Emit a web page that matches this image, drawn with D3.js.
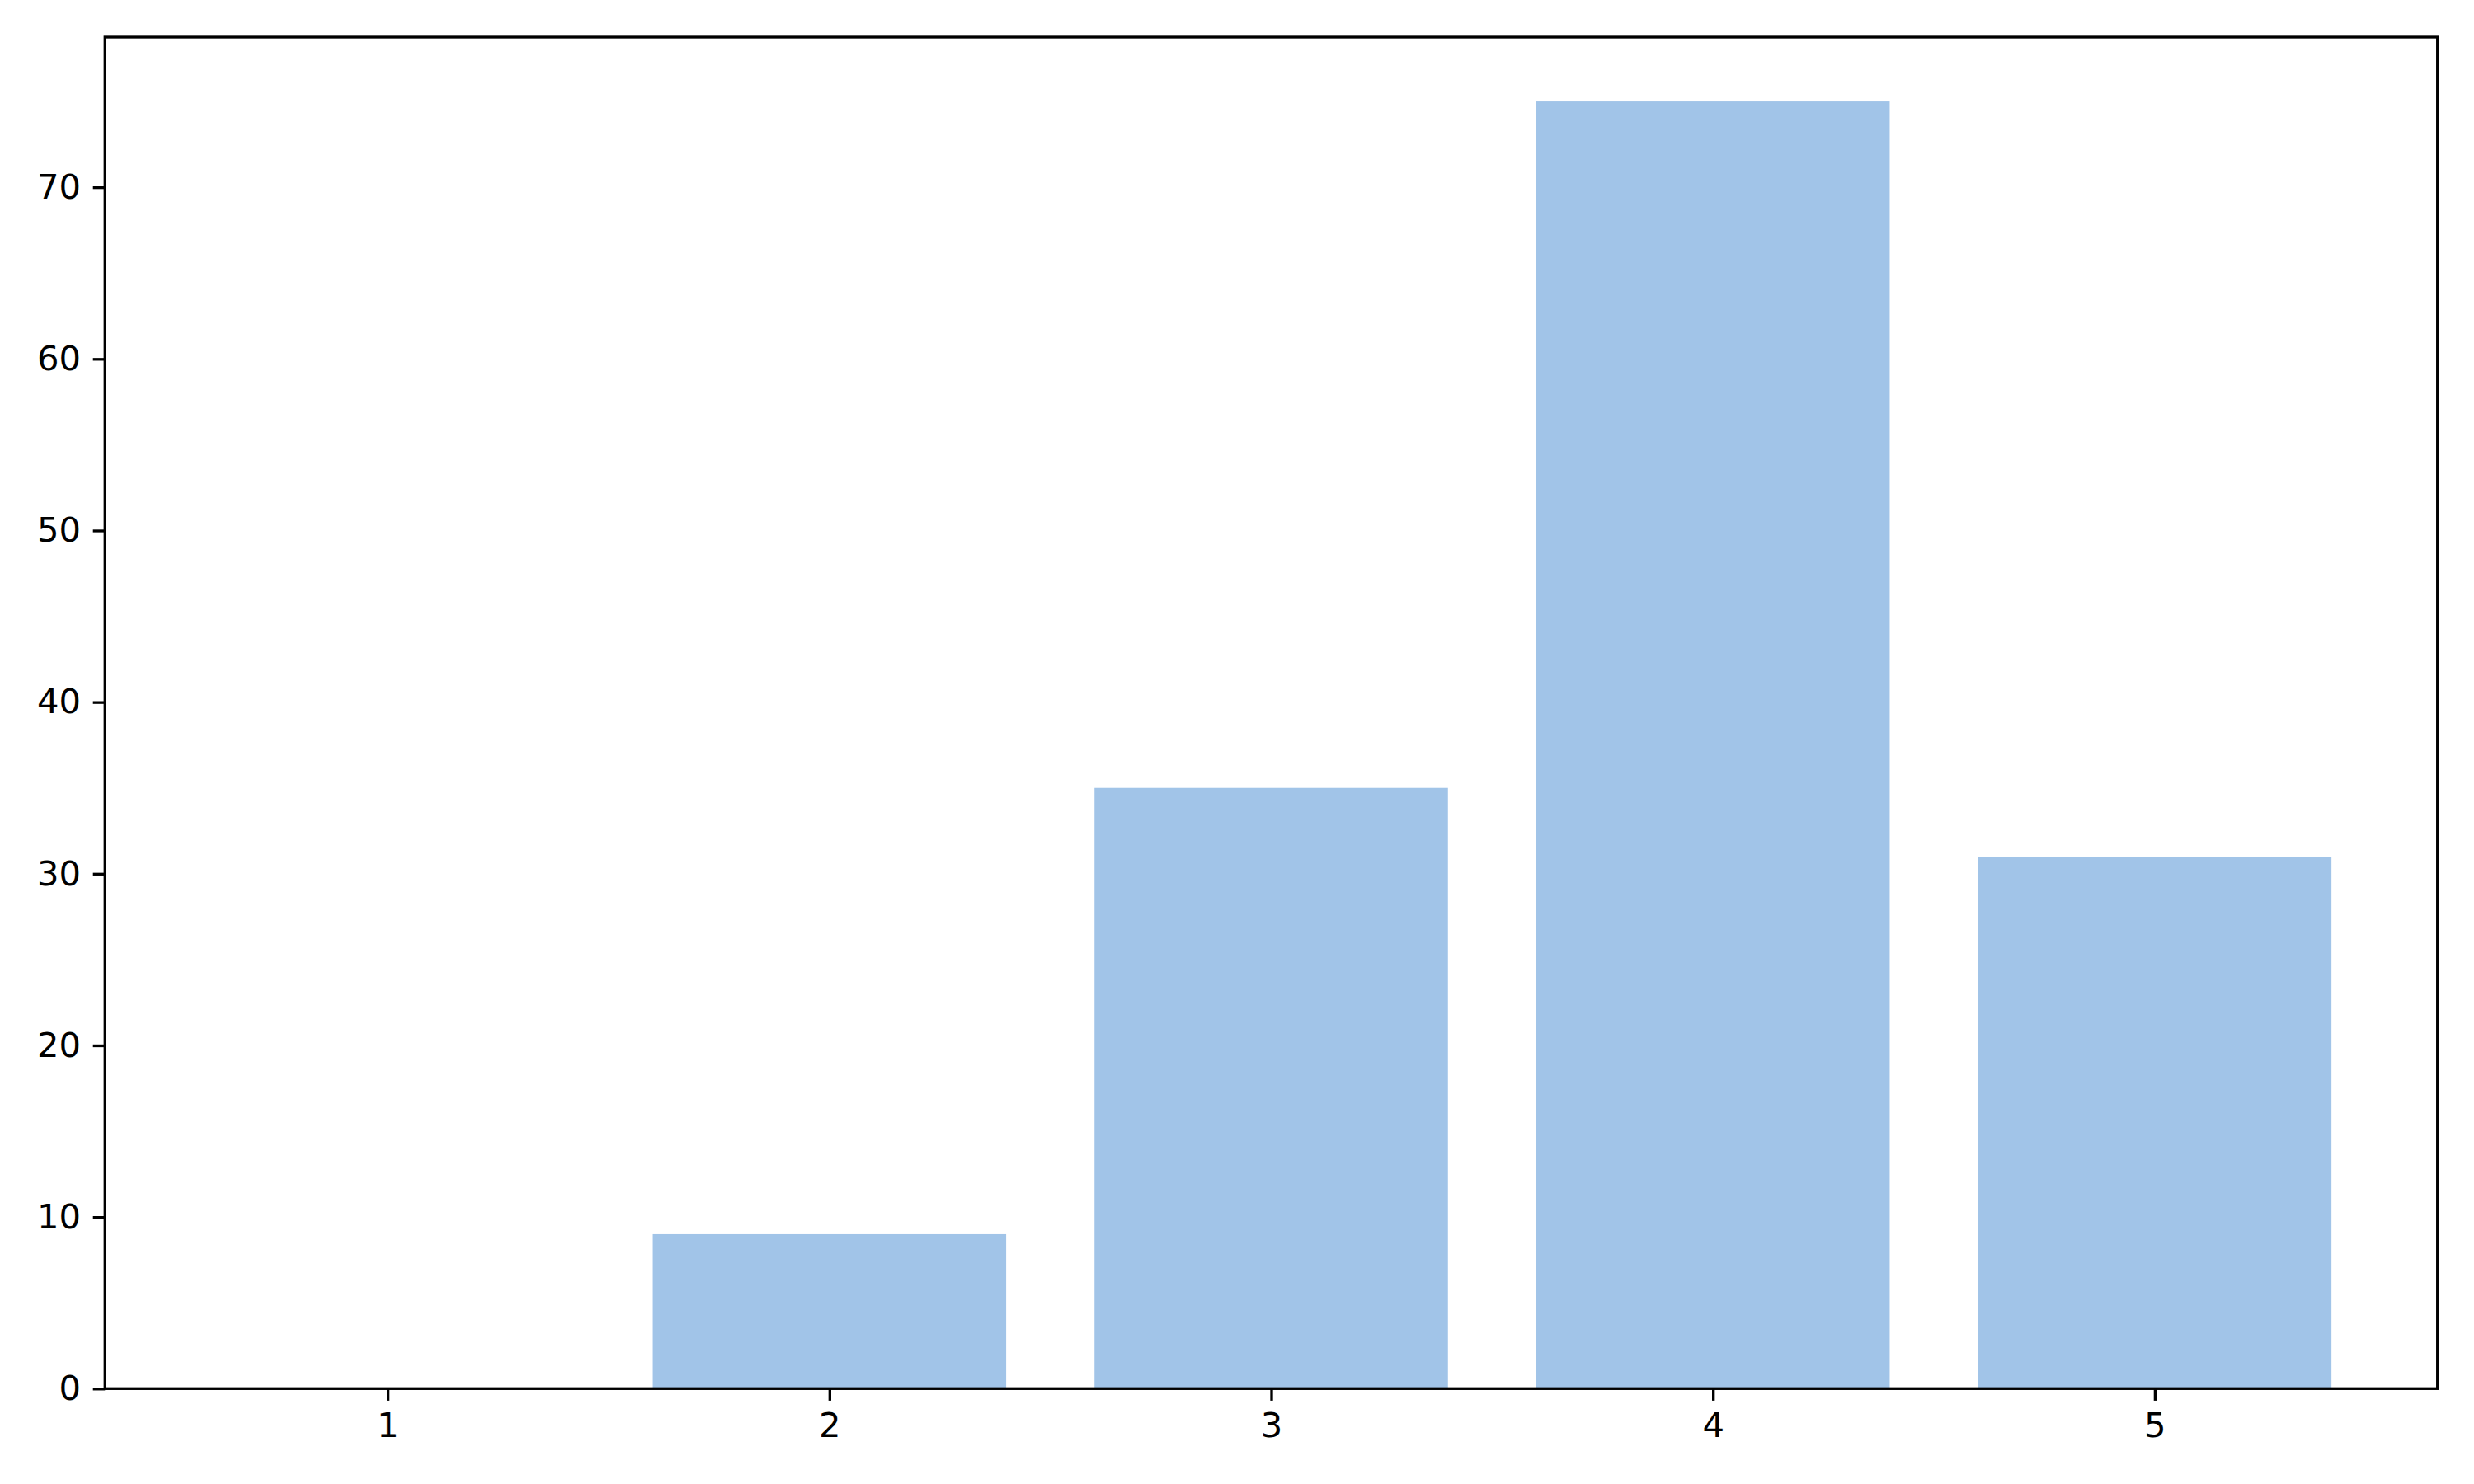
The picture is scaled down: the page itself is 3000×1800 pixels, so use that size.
<!DOCTYPE html>
<html>
<head>
<meta charset="utf-8">
<script src="https://cdn.jsdelivr.net/npm/d3@7"></script>
<style>
  body { margin: 0; background: #fff; }
  svg { display: block; }
</style>
</head>
<body>
<svg></svg>
<script>
// data
const categories = [1, 2, 3, 4, 5];
const counts = [0, 9, 35, 75, 31];
const yTicks = [0, 10, 20, 30, 40, 50, 60, 70];

function drawBarChart() {
  // canvas dimension
  const width = 3000;
  const height = 1800;
  const left = 127.3, right = 2955.7, top = 45, bottom = 1684.3;
  const barWidth = 0.8;
  const fontSize = 41.7;
  const lineW = 3.33;
  const tickLen = 14.6;

  const svg = d3.select("svg")
    .attr("width", width)
    .attr("height", height);

  // scales (matplotlib style margins)
  const xMin = 1 - barWidth / 2, xMax = 5 + barWidth / 2;
  const xPad = (xMax - xMin) * 0.05;
  const x = d3.scaleLinear()
    .domain([xMin - xPad, xMax + xPad])
    .range([left, right]);

  const y = d3.scaleLinear()
    .domain([0, d3.max(counts) * 1.05])
    .range([bottom, top]);

  // bars
  svg.append("g")
    .selectAll("rect")
    .data(categories)
    .enter()
    .append("rect")
    .attr("x", (d) => x(d - barWidth / 2))
    .attr("width", (d) => x(d + barWidth / 2) - x(d - barWidth / 2))
    .attr("y", (d, i) => y(counts[i]))
    .attr("height", (d, i) => y(0) - y(counts[i]))
    .attr("fill", "#a1c4e8");

  // axes
  const xAxis = svg.append("g")
    .attr("transform", `translate(0,${bottom})`)
    .call(d3.axisBottom(x).tickValues(categories).tickFormat(d3.format("d"))
      .tickSize(tickLen).tickPadding(tickLen));

  const yAxis = svg.append("g")
    .attr("transform", `translate(${left},0)`)
    .call(d3.axisLeft(y).tickValues(yTicks).tickFormat(d3.format("d"))
      .tickSize(tickLen).tickPadding(tickLen));

  [xAxis, yAxis].forEach((g) => {
    g.select(".domain").remove();
    g.selectAll(".tick line").attr("stroke", "#000").attr("stroke-width", lineW);
    g.selectAll(".tick text")
      .attr("fill", "#000")
      .style("font-family", "'DejaVu Sans', sans-serif")
      .style("font-size", fontSize + "px");
  });

  // frame
  svg.append("rect")
    .attr("x", left)
    .attr("y", top)
    .attr("width", right - left)
    .attr("height", bottom - top)
    .attr("fill", "none")
    .attr("stroke", "#000")
    .attr("stroke-width", lineW)
    .attr("stroke-linejoin", "miter");
}

drawBarChart();
</script>
</body>
</html>
